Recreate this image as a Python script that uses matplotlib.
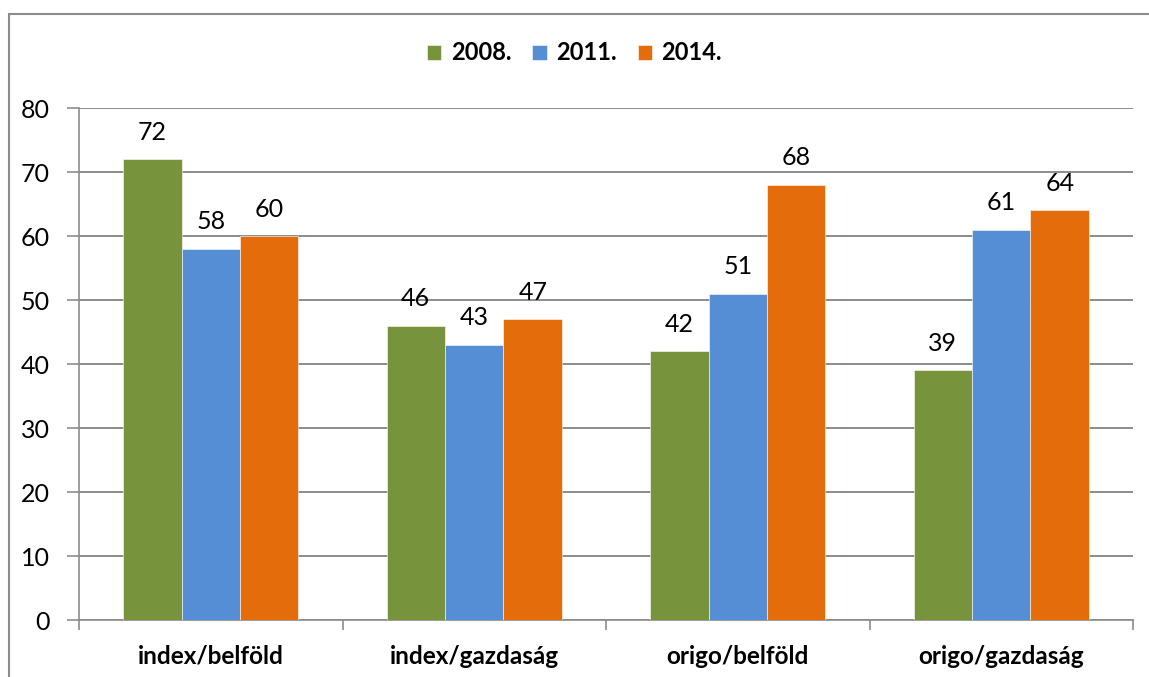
import numpy as np
import matplotlib.pyplot as plt
from matplotlib.patches import Rectangle

categories = ['index/belföld', 'index/gazdaság', 'origo/belföld', 'origo/gazdaság']
years = ['2008.', '2011.', '2014.']
v2008 = [72, 46, 42, 39]
v2011 = [58, 43, 51, 61]
v2014 = [60, 47, 68, 64]
colors = ['#77933C', '#558ED5', '#E46C0A']

plt.rcParams['font.family'] = ['Lato', 'DejaVu Sans']

fig = plt.figure(figsize=(11.49, 6.77), dpi=100)
ax = fig.add_axes([79 / 1149, 57 / 677, (1133 - 79) / 1149, 512 / 677])

x = np.arange(len(categories))
w = 0.222
for i, (vals, c, lab) in enumerate(zip([v2008, v2011, v2014], colors, years)):
    bars = ax.bar(x + (i - 1) * w, vals, w, color=c, label=lab, zorder=3,
                  edgecolor='white', linewidth=0.4)
    for b, v in zip(bars, vals):
        ax.text(b.get_x() + b.get_width() / 2, v + 2.4, str(v),
                ha='center', va='bottom', fontsize=18, color='black')

ax.set_xlim(-0.5, len(categories) - 0.5)
ax.set_ylim(0, 80)
ax.set_yticks(range(0, 81, 10))
ax.yaxis.grid(True, color='#8c8c8c', linewidth=1.4, zorder=0)
ax.set_axisbelow(True)

ax.set_xticks(x)
ax.set_xticklabels(categories, fontsize=17.5, fontweight='bold')
ax.set_xticks(np.arange(-0.5, len(categories), 1), minor=True)
ax.tick_params(axis='x', which='major', length=0, pad=18)
ax.tick_params(axis='x', which='minor', length=7, width=1.2, color='#8c8c8c', direction='out')
ax.tick_params(axis='y', length=9, width=1.2, color='#8c8c8c', pad=12, labelsize=18)

for s in ['top', 'right']:
    ax.spines[s].set_visible(False)
for s in ['left', 'bottom']:
    ax.spines[s].set_color('#8c8c8c')
    ax.spines[s].set_linewidth(1.2)

leg = fig.legend(loc='center', bbox_to_anchor=(0.5, 1 - 53 / 677), ncol=3,
                 frameon=False, handlelength=0.6, handleheight=0.6,
                 handletextpad=0.4, columnspacing=0.9,
                 prop={'weight': 'bold', 'size': 17})

fig.patches.append(Rectangle((9 / 1149, -0.05), 1.1, 1 - 14 / 677 + 0.05,
                             transform=fig.transFigure, fill=False,
                             edgecolor='#8c8c8c', linewidth=1.5))

fig.savefig('out.png', dpi=100)
